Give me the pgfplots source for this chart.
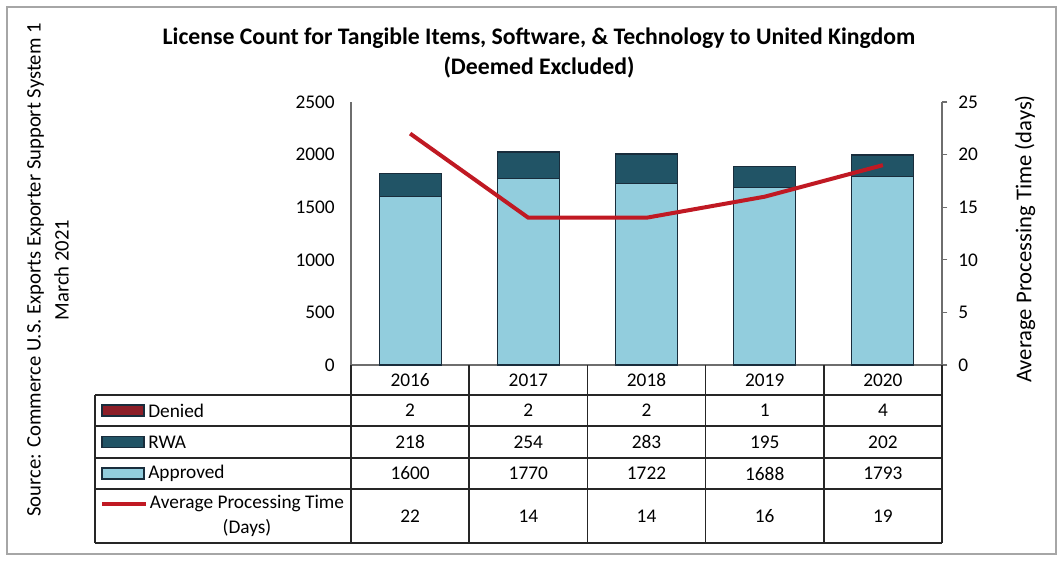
\documentclass[border=0pt]{standalone}
\usepackage{pgfplots}
\pgfplotsset{compat=1.18}
\usepackage{fontspec}
\setmainfont{Carlito}
\definecolor{appr}{RGB}{146,205,221}
\definecolor{rwa}{RGB}{33,84,102}
\definecolor{den}{RGB}{140,30,40}
\definecolor{edge}{RGB}{25,45,60}
\definecolor{redl}{RGB}{192,25,35}
\definecolor{axgray}{RGB}{110,110,110}
\pgfplotstableread{
x appr rwa den apt
1 1600 218 2 22
2 1770 254 2 14
3 1722 283 2 14
4 1688 195 1 16
5 1793 202 4 19
}\datatab
\begin{document}
\begin{tikzpicture}[x=0.75pt,y=-0.75pt]
\path (0,0) rectangle (1063,561);
\coordinate (O) at (351,365);
\draw[gray!70, line width=1.2pt] (7,7) rectangle (1056,554);
% title
\node[font=\fontsize{17.8}{22.5}\selectfont\bfseries, align=center] at (539,53)
  {License Count for Tangible Items, Software, \& Technology to United Kingdom\\(Deemed Excluded)};
% source
\node[rotate=90, font=\fontsize{15.5}{21}\selectfont, align=center] at (48,270)
  {Source: Commerce U.S. Exports Exporter Support System 1\\March 2021};
% right label
\node[rotate=90, font=\fontsize{17}{20}\selectfont] at (1025,239) {Average Processing Time (days)};
\begin{axis}[
  at={(O)}, anchor=south west,
  scale only axis, width=443.25pt, height=197.25pt,
  xmin=0.5, xmax=5.5, ymin=0, ymax=2500,
  ybar stacked, bar width=46.5pt,
  axis x line*=bottom, axis y line*=left,
  axis line style={axgray, line width=1pt},
  xtick=\empty,
  ytick={0,500,...,2500},
  major tick length=0pt,
  tick label style={font=\fontsize{14.5}{17}\selectfont},
  y tick label style={inner sep=0pt, xshift=-12pt},
  /pgf/number format/assume math mode=true,
  /pgf/number format/1000 sep={},
  clip=false,
]
\addplot[fill=appr, draw=edge, line width=0.8pt] table[x=x,y=appr]{\datatab};
\addplot[fill=rwa, draw=edge, line width=0.8pt] table[x=x,y=rwa]{\datatab};
\addplot[fill=den, draw=edge, line width=0.8pt] table[x=x,y=den]{\datatab};
\end{axis}
\begin{axis}[
  at={(O)}, anchor=south west,
  scale only axis, width=443.25pt, height=197.25pt,
  xmin=0.5, xmax=5.5, ymin=0, ymax=25,
  axis x line=none, axis y line*=right,
  axis line style={axgray, line width=1pt},
  ytick={0,5,...,25},
  major tick length=4pt, tick align=outside,
  tick style={axgray, line width=1pt},
  tick label style={font=\fontsize{14.5}{17}\selectfont},
  y tick label style={inner sep=0pt, xshift=8pt},
  /pgf/number format/assume math mode=true,
  clip=false,
]
\addplot[redl, line width=3pt, mark=none] table[x=x,y=apt]{\datatab};
\end{axis}
% table
\begin{scope}[line width=1.1pt, draw=black!85]
\foreach \yy in {395,426,458,489,543} \draw (95,\yy) -- (942,\yy);
\draw (95,395) -- (95,543);
\foreach \xx in {351,469.2,587.4,705.6,823.8,942} \draw (\xx,365) -- (\xx,543);
\end{scope}
\begin{scope}[font=\fontsize{14.5}{18}\selectfont]
\foreach \yr [count=\i from 0] in {2016,2017,2018,2019,2020}
  \node at (410.1+118.2*\i,380) {\yr};
\foreach \v [count=\i from 0] in {2,2,2,1,4}
  \node at (410.1+118.2*\i,410.5) {\v};
\foreach \v [count=\i from 0] in {218,254,283,195,202}
  \node at (410.1+118.2*\i,442) {\v};
\foreach \v [count=\i from 0] in {1600,1770,1722,1688,1793}
  \node at (410.1+118.2*\i,473.5) {\v};
\foreach \v [count=\i from 0] in {22,14,14,16,19}
  \node at (410.1+118.2*\i,516) {\v};
\fill[den, draw=edge, line width=0.8pt] (102,405) rectangle (144,416);
\node[anchor=west, inner sep=0pt] at (148,410.5) {Denied};
\fill[rwa, draw=edge, line width=0.8pt] (102,436.5) rectangle (144,447.5);
\node[anchor=west, inner sep=0pt] at (148,442) {RWA};
\fill[appr, draw=edge, line width=0.8pt] (102,468) rectangle (144,479);
\node[anchor=west, inner sep=0pt] at (148,473.5) {Approved};
\draw[redl, line width=3pt] (102,504) -- (146,504);
\node[align=center, inner sep=0pt, font=\fontsize{14.5}{19}\selectfont] at (247,516) {Average Processing Time\\(Days)};
\end{scope}
\end{tikzpicture}
\end{document}
